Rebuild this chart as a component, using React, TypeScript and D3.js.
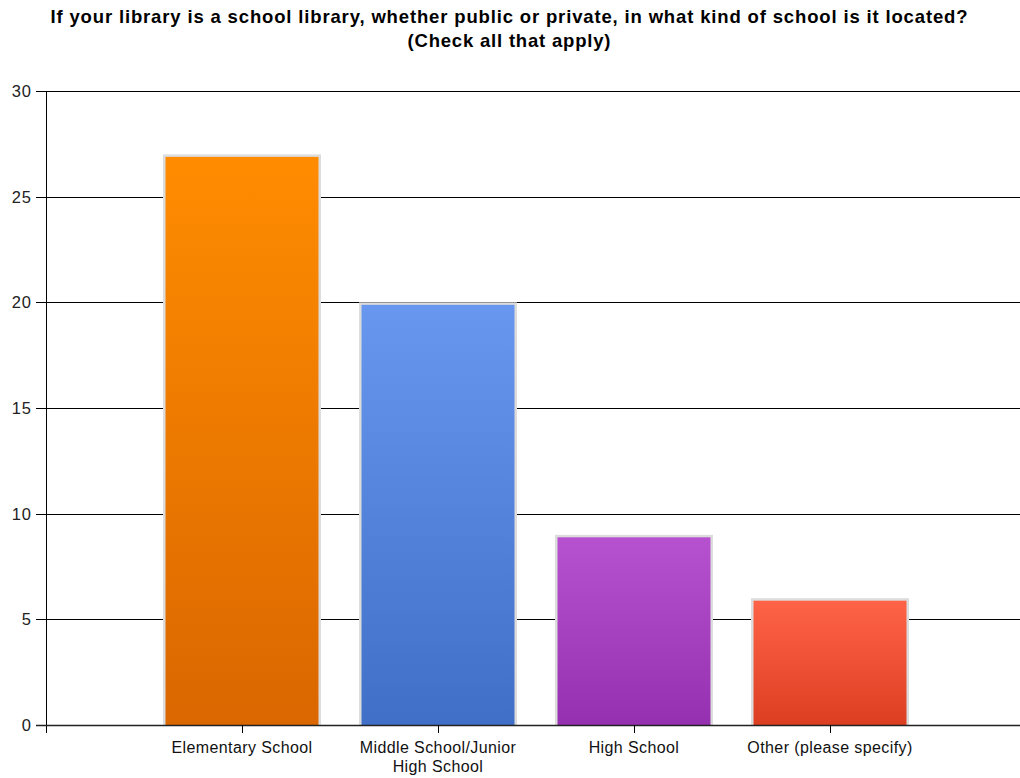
import React from "react";
import * as d3 from "d3";

const categories: string[][] = [
  ["Elementary School"],
  ["Middle School/Junior", "High School"],
  ["High School"],
  ["Other (please specify)"],
];
const values: number[] = [27, 20, 9, 6];
const yTicks: number[] = [0, 5, 10, 15, 20, 25, 30];
const topColors: string[] = ["#FF8C00", "#6797EE", "#B652CF", "#FF6347"];
const bottomColors: string[] = ["#DA6700", "#3F6FC6", "#9530B0", "#DC3E22"];
const titleLines: string[] = [
  "If your library is a school library, whether public or private, in what kind of school is it located?",
  "(Check all that apply)",
];
const titleWidths: number[] = [917, 203];

export default function App() {
  const W = 1020, H = 778;
  const left = 46, top = 91, bottom = 725;
  const x = d3.scaleLinear().domain([0, categories.length + 1]).range([left, left + 196 * (categories.length + 1)]);
  const y = d3.scaleLinear().domain([0, 30]).range([bottom, top]);
  const step = x(1) - x(0);
  const bw = step * 0.806;
  const font = "'Liberation Sans', Arial, sans-serif";

  return (
    <svg width={W} height={H} style={{ position: "absolute", left: 0, top: 0, background: "#fff" }}>
      <defs>
        {values.map((_, i) => (
          <linearGradient key={i} id={`g${i}`} x1="0" y1="0" x2="0" y2="1">
            <stop offset="0%" stopColor={topColors[i]} />
            <stop offset="100%" stopColor={bottomColors[i]} />
          </linearGradient>
        ))}
      </defs>
      {titleLines.map((t, i) => (
        <text
          key={i}
          x={W / 2 - 1}
          y={23 + i * 24}
          textAnchor="middle"
          fontFamily={font}
          fontWeight="bold"
          fontSize={18.5}
          fill="#000"
          textLength={titleWidths[i]}
          lengthAdjust="spacing"
        >
          {t}
        </text>
      ))}
      {/* gridlines */}
      {yTicks.map((t) => (
        <line key={t} x1={36} x2={W} y1={Math.round(y(t)) + 0.5} y2={Math.round(y(t)) + 0.5} stroke="#000" strokeWidth={1} />
      ))}
      {yTicks.map((t) => (
        <text key={"l" + t} x={32} y={y(t) + 6} textAnchor="end" fontFamily={font} fontSize={16.5} letterSpacing={1} fill="#222">
          {t}
        </text>
      ))}
      {/* bars */}
      {values.map((v, i) => {
        const cx = x(i + 1);
        const x0 = cx - bw / 2;
        const yt = y(v);
        return (
          <g key={i}>
            <rect x={x0} y={yt} width={bw} height={bottom - yt} fill="#dcdcdc" />
            <rect x={x0 + 2.5} y={yt + 2.5} width={bw - 5} height={bottom - yt - 2.5} fill={`url(#g${i})`} />
          </g>
        );
      })}
      {/* axes */}
      <line x1={left + 0.5} x2={left + 0.5} y1={top} y2={bottom + 8} stroke="#000" strokeWidth={1} />
      <line x1={36} x2={W} y1={bottom + 0.5} y2={bottom + 0.5} stroke="#222" strokeWidth={1.5} />
      {values.map((_, i) => (
        <line key={"t" + i} x1={Math.round(x(i + 1)) + 0.5} x2={Math.round(x(i + 1)) + 0.5} y1={bottom} y2={bottom + 8} stroke="#000" />
      ))}
      {categories.map((lines, i) => (
        <text key={"c" + i} x={x(i + 1)} y={bottom + 28} textAnchor="middle" fontFamily={font} fontSize={16} letterSpacing={0.4} fill="#111">
          {lines.map((ln, j) => (
            <tspan key={j} x={x(i + 1)} dy={j === 0 ? 0 : 19}>
              {ln}
            </tspan>
          ))}
        </text>
      ))}
    </svg>
  );
}
